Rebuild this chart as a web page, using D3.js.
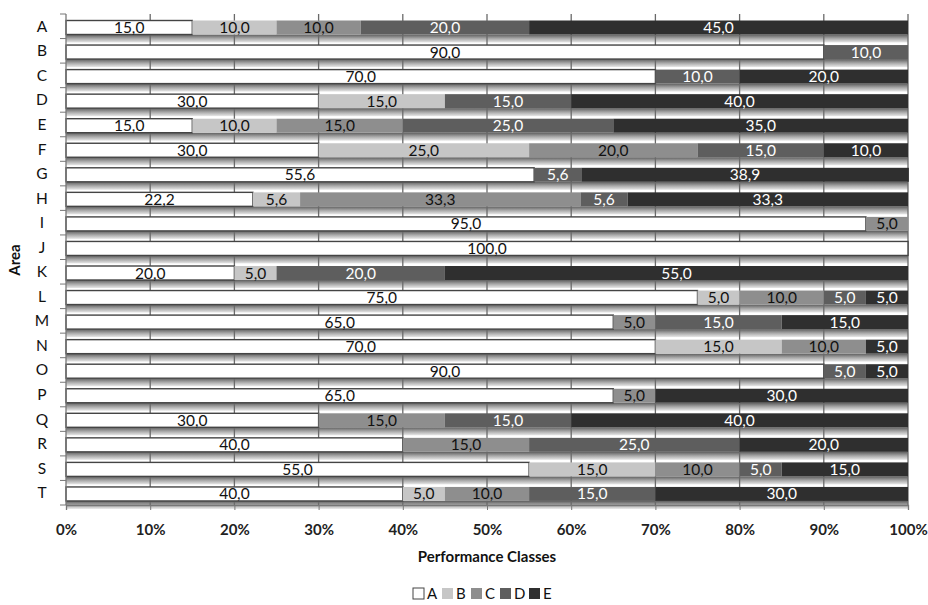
<!DOCTYPE html>
<html><head><meta charset="utf-8">
<script src="https://cdn.jsdelivr.net/npm/d3@7"></script>
<style>body{margin:0;background:#fff}svg{display:block}</style>
</head><body>
<svg id="chart" width="928" height="605"></svg>
<script>
const areas = ["A","B","C","D","E","F","G","H","I","J","K","L","M","N","O","P","Q","R","S","T"];
const classes = ["A","B","C","D","E"];
const valA = [15,90,70,30,15,30,55.6,22.2,95,100,20,75,65,70,90,65,30,40,55,40];
const valB = [10,0,0,15,10,25,0,5.6,0,0,5,5,0,15,0,0,0,0,15,5];
const valC = [10,0,0,0,15,20,0,33.3,5,0,0,10,5,10,0,5,15,15,10,10];
const valD = [20,10,10,15,25,15,5.6,5.6,0,0,20,5,15,0,5,0,15,25,5,15];
const valE = [45,0,20,40,35,10,38.9,33.3,0,0,55,5,15,5,5,30,40,20,15,30];
const xTicks = [0,10,20,30,40,50,60,70,80,90,100];
const colors = ["#ffffff","#c6c6c6","#8e8e8e","#5e5e5e","#2f2f2f"];
const textColors = ["#111","#111","#111","#fff","#fff"];

(function(){
const rows = areas.map((a,i)=>({area:a,A:valA[i],B:valB[i],C:valC[i],D:valD[i],E:valE[i]}));
const stack = d3.stack().keys(classes)(rows);

const svg = d3.select("#chart");
const mLeft = 66, mRight = 908, mTop = 14, mBottom = 505;
const x = d3.scaleLinear().domain([0,100]).range([mLeft,mRight]);
const y = d3.scaleBand().domain(areas).range([mTop,mBottom]).paddingInner(0).paddingOuter(0);
const bw = y.bandwidth();
const barH = 14, barOff = 6.5;
const font = "Lato, sans-serif";

const defs = svg.append("defs");
const g = defs.append("linearGradient").attr("id","shade").attr("x1",0).attr("x2",0).attr("y1",0).attr("y2",1);
g.append("stop").attr("offset","0%").attr("stop-color","#5e5e5e");
g.append("stop").attr("offset","50%").attr("stop-color","#a8a8a8");
g.append("stop").attr("offset","100%").attr("stop-color","#e8e8e8");

// 3D floor shading under each bar
svg.append("g").selectAll("rect").data(areas).join("rect")
  .attr("x",x(0)).attr("width",x(100)-x(0))
  .attr("y",d=>y(d)+barOff+barH).attr("height",8)
  .attr("fill","url(#shade)");

// grid lines
svg.append("g").selectAll("line").data(xTicks.slice(1)).join("line")
  .attr("x1",d=>x(d)).attr("x2",d=>x(d)).attr("y1",mTop).attr("y2",mBottom)
  .attr("stroke","#6a6a6a").attr("stroke-width",1.3);

// bars
const layers = svg.append("g").selectAll("g").data(stack).join("g")
  .attr("fill",(d,i)=>colors[i]);
layers.selectAll("rect").data(d=>d.filter(s=>s[1]-s[0]>0)).join("rect")
  .attr("x",d=>x(d[0])).attr("width",d=>x(d[1])-x(d[0]))
  .attr("y",d=>y(d.data.area)+barOff).attr("height",barH)
  .attr("stroke",function(){return d3.select(this.parentNode).datum().key==="A"?"#444":"none";})
  .attr("stroke-width",1.4);

// labels
stack.forEach((layer,li)=>{
  svg.append("g").selectAll("text").data(layer.filter(s=>s[1]-s[0]>0)).join("text")
    .attr("x",d=>x((d[0]+d[1])/2)).attr("y",d=>y(d.data.area)+barOff+barH/2+5.5)
    .attr("text-anchor","middle").attr("font-family",font).attr("font-size",15.5)
    .attr("fill",textColors[li])
    .text(d=>d3.format(".1f")(d[1]-d[0]).replace(".",","));
});

// left axis
const ya = svg.append("g").attr("transform",`translate(${mLeft},0)`);
ya.append("line").attr("x1",0).attr("x2",0).attr("y1",mTop).attr("y2",mBottom).attr("stroke","#777").attr("stroke-width",1.3);
ya.selectAll("line.t").data(d3.range(areas.length+1)).join("line").attr("class","t")
  .attr("x1",-6).attr("x2",0).attr("y1",i=>mTop+i*bw).attr("y2",i=>mTop+i*bw).attr("stroke","#777");
ya.selectAll("text").data(areas).join("text")
  .attr("x",-24).attr("y",d=>y(d)+bw/2+5.5).attr("text-anchor","middle")
  .attr("font-family",font).attr("font-size",15.5).attr("fill","#111").text(d=>d);

// bottom axis
const xa = svg.append("g").attr("transform",`translate(0,${mBottom})`)
  .call(d3.axisBottom(x).tickValues(xTicks).tickFormat(d=>d+"%").tickSize(5).tickPadding(14));
xa.select(".domain").attr("stroke","#777").attr("stroke-width",1.3);
xa.selectAll(".tick line").attr("stroke","#777");
xa.selectAll("text").attr("font-family",font).attr("font-size",15).attr("font-weight","bold").attr("fill","#222");

// axis titles
svg.append("text").attr("x",(mLeft+mRight)/2).attr("y",562).attr("text-anchor","middle")
  .attr("font-family",font).attr("font-size",15).attr("font-weight","bold").attr("fill","#111")
  .text("Performance Classes");
svg.append("text").attr("transform","translate(20,260) rotate(-90)").attr("text-anchor","middle")
  .attr("font-family",font).attr("font-size",15).attr("font-weight","bold").attr("fill","#111")
  .text("Area");

// legend
const leg = svg.append("g").attr("transform","translate(413,599)");
const lg = leg.selectAll("g").data(classes).join("g").attr("transform",(d,i)=>`translate(${i*29},0)`);
lg.append("rect").attr("x",0).attr("y",-11).attr("width",11).attr("height",11)
  .attr("fill",(d,i)=>colors[i]).attr("stroke",(d,i)=>i===0?"#444":"none");
lg.append("text").attr("x",14).attr("y",0).attr("font-family",font).attr("font-size",15)
  .attr("fill","#111").text(d=>d);
})();
</script>
</body></html>
